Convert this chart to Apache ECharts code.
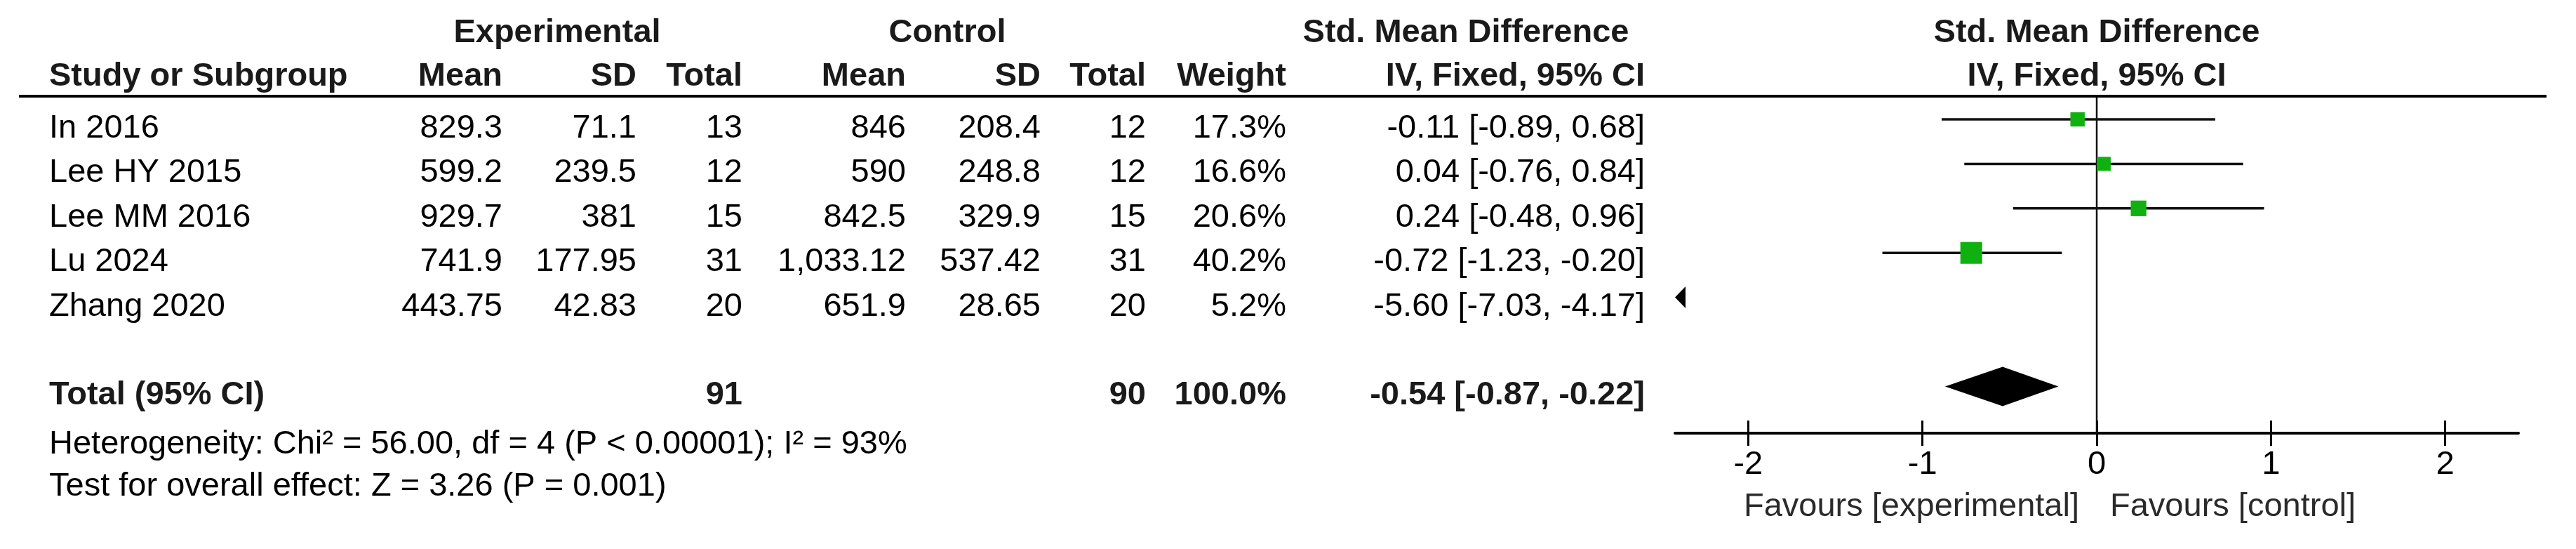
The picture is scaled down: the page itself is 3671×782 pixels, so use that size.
<!DOCTYPE html>
<html><head><meta charset="utf-8">
<script src="https://cdn.jsdelivr.net/npm/echarts@6/dist/echarts.min.js"></script>
<style>html,body{margin:0;padding:0;background:#fff}#c{width:3671px;height:782px}</style>
</head><body><div id="c"></div>
<script>
// ---------- data ----------
const studies = ['In 2016', 'Lee HY 2015', 'Lee MM 2016', 'Lu 2024', 'Zhang 2020'];
const expMean = [829.3, 599.2, 929.7, 741.9, 443.75];
const expSD = [71.1, 239.5, 381, 177.95, 42.83];
const expN = [13, 12, 15, 31, 20];
const ctlMean = [846, 590, 842.5, 1033.12, 651.9];
const ctlSD = [208.4, 248.8, 329.9, 537.42, 28.65];
const ctlN = [12, 12, 15, 31, 20];
const weight = [17.3, 16.6, 20.6, 40.2, 5.2];
const smd = [-0.11, 0.04, 0.24, -0.72, -5.60];
const ciLow = [-0.89, -0.76, -0.48, -1.23, -7.03];
const ciHigh = [0.68, 0.84, 0.96, -0.20, -4.17];
const totalLabel = 'Total (95% CI)';
const totalExpN = 91;
const totalCtlN = 90;
const totalWeight = 100.0;
const pooled = [-0.54, -0.87, -0.22]; // estimate, low, high
const xTicks = [-2, -1, 0, 1, 2];
const heterogeneityText = 'Heterogeneity: Chi² = 56.00, df = 4 (P < 0.00001); I² = 93%';
const overallText = 'Test for overall effect: Z = 3.26 (P = 0.001)';
const favoursLeft = 'Favours [experimental]';
const favoursRight = 'Favours [control]';

// ---------- layout ----------
const FONT = '"Liberation Sans", Arial, sans-serif';
const FS = 47;
const PLOT_LEFT = 2387, PLOT_RIGHT = 3589;
const HEADER_Y = 137, AXIS_Y = 617;
const X_MIN = -2.42, X_MAX = 2.42;
const ROW0 = 170, ROW_H = 63.4;
const Y_MIN = (HEADER_Y - ROW0) / ROW_H, Y_MAX = (AXIS_Y - ROW0) / ROW_H;
const TOTAL_ROW = 6;
const TEXT_DY = 13;
const unit = (PLOT_RIGHT - PLOT_LEFT) / (X_MAX - X_MIN);
const tickLeft = PLOT_LEFT + (xTicks[0] - X_MIN) * unit;
const tickWidth = (xTicks[xTicks.length - 1] - xTicks[0]) * unit;

const chart = echarts.init(document.getElementById('c'), null, {renderer: 'canvas'});

const rows = studies.map((s, i) => i);
const ciData = studies.map((s, i) => [ciLow[i], ciHigh[i], rows[i]]);
const sqData = studies.map((s, i) => [smd[i], rows[i], weight[i]]).filter(d => d[0] >= X_MIN && d[0] <= X_MAX);

const option = {
  backgroundColor: '#ffffff',
  animation: false,
  grid: [
    {left: PLOT_LEFT, width: PLOT_RIGHT - PLOT_LEFT, top: HEADER_Y, height: AXIS_Y - HEADER_Y, containLabel: false},
    {left: tickLeft, width: tickWidth, top: HEADER_Y, height: AXIS_Y - HEADER_Y, containLabel: false}
  ],
  xAxis: [
    {gridIndex: 0, type: 'value', position: 'bottom', min: X_MIN, max: X_MAX,
     axisLine: {show: true, onZero: false, lineStyle: {color: '#000', width: 4}},
     axisTick: {show: false}, axisLabel: {show: false}, splitLine: {show: false}},
    {gridIndex: 1, type: 'value', position: 'bottom', min: xTicks[0], max: xTicks[xTicks.length - 1], interval: 1,
     axisLine: {show: false, onZero: false}, axisTick: {show: true, length: 18, lineStyle: {color: '#000', width: 3}},
     axisLabel: {show: true, margin: 22, fontSize: FS, fontFamily: FONT, color: '#000'}, splitLine: {show: false}},
    {gridIndex: 1, type: 'value', position: 'bottom', offset: 0, min: xTicks[0], max: xTicks[xTicks.length - 1], interval: 1,
     axisLine: {show: false, onZero: false}, axisTick: {show: true, inside: true, length: 18, lineStyle: {color: '#000', width: 3}},
     axisLabel: {show: false}, splitLine: {show: false}}
  ],
  yAxis: [
    {gridIndex: 0, type: 'value', min: Y_MIN, max: Y_MAX, inverse: true, show: false},
    {gridIndex: 1, type: 'value', min: Y_MIN, max: Y_MAX, inverse: true, show: false}
  ],
  series: [
    {
      type: 'line', xAxisIndex: 0, yAxisIndex: 0, symbol: 'none', z: 1,
      data: [[0, Y_MIN], [0, Y_MAX]],
      lineStyle: {color: '#111', width: 2.5}
    },
    {
      type: 'custom', xAxisIndex: 0, yAxisIndex: 0, z: 2, clip: false,
      data: ciData,
      renderItem: function (params, api) {
        const lo = api.value(0), hi = api.value(1), row = api.value(2);
        if (hi < X_MIN) {
          const p = api.coord([X_MIN, row]);
          return {type: 'polygon', shape: {points: [[p[0], p[1]], [p[0] + 15, p[1] - 15.5], [p[0] + 15, p[1] + 15.5]]},
                  style: {fill: '#000'}};
        }
        const a = api.coord([Math.max(lo, X_MIN), row]);
        const b = api.coord([Math.min(hi, X_MAX), row]);
        return {type: 'line', shape: {x1: a[0], y1: a[1], x2: b[0], y2: b[1]},
                style: {stroke: '#111', lineWidth: 3.5}};
      }
    },
    {
      type: 'scatter', xAxisIndex: 0, yAxisIndex: 0, z: 3,
      symbol: 'rect',
      symbolSize: function (v) { return 4.9 * Math.sqrt(v[2]); },
      itemStyle: {color: '#11b011', opacity: 1},
      data: sqData
    },
    {
      type: 'custom', xAxisIndex: 0, yAxisIndex: 0, z: 3, clip: false,
      data: [[pooled[1], pooled[0], pooled[2], TOTAL_ROW]],
      renderItem: function (params, api) {
        const l = api.coord([api.value(0), api.value(3)]);
        const m = api.coord([api.value(1), api.value(3)]);
        const r = api.coord([api.value(2), api.value(3)]);
        const h = 28;
        return {type: 'polygon', shape: {points: [[l[0], l[1]], [m[0], m[1] - h], [r[0], r[1]], [m[0], m[1] + h]]},
                style: {fill: '#000'}};
      }
    }
  ]
};
chart.setOption(option);

// ---------- table text ----------
function txt(x, y, text, align, bold, color, size) {
  return {type: 'text', x: x, y: y, silent: true, z: 10,
    style: {text: text, font: (bold ? 'bold ' : '') + (size || FS) + 'px ' + FONT,
      textAlign: align, align: align, textVerticalAlign: 'middle', verticalAlign: 'middle', fill: color || '#000'}};
}
const fmtNum = v => v.toLocaleString('en-US', {maximumFractionDigits: 2});
const fmt2 = v => v.toFixed(2);
const ciText = (e, l, h) => fmt2(e) + ' [' + fmt2(l) + ', ' + fmt2(h) + ']';

const COL = {study: 70, expMean: 716, expSD: 907, expN: 1058, ctlMean: 1291, ctlSD: 1483, ctlN: 1633, weight: 1833, ci: 2344};
const H1 = 47, H2 = 109;
const zeroPx = chart.convertToPixel({xAxisIndex: 0, yAxisIndex: 0}, [0, 0])[0];
const plotCenter = (PLOT_LEFT + PLOT_RIGHT) / 2;
const HDR = '#1a1a1a';

const els = [];
els.push(txt(794, H1, 'Experimental', 'center', true, HDR));
els.push(txt(1350, H1, 'Control', 'center', true, HDR));
els.push(txt(2089, H1, 'Std. Mean Difference', 'center', true, HDR));
els.push(txt(plotCenter, H1, 'Std. Mean Difference', 'center', true, HDR));
els.push(txt(COL.study, H2, 'Study or Subgroup', 'left', true, HDR));
els.push(txt(COL.expMean, H2, 'Mean', 'right', true, HDR));
els.push(txt(COL.expSD, H2, 'SD', 'right', true, HDR));
els.push(txt(COL.expN, H2, 'Total', 'right', true, HDR));
els.push(txt(COL.ctlMean, H2, 'Mean', 'right', true, HDR));
els.push(txt(COL.ctlSD, H2, 'SD', 'right', true, HDR));
els.push(txt(COL.ctlN, H2, 'Total', 'right', true, HDR));
els.push(txt(COL.weight, H2, 'Weight', 'right', true, HDR));
els.push(txt(COL.ci, H2, 'IV, Fixed, 95% CI', 'right', true, HDR));
els.push(txt(plotCenter, H2, 'IV, Fixed, 95% CI', 'center', true, HDR));

studies.forEach((s, i) => {
  const y = chart.convertToPixel({xAxisIndex: 0, yAxisIndex: 0}, [0, rows[i]])[1] + TEXT_DY;
  els.push(txt(COL.study, y, s, 'left'));
  els.push(txt(COL.expMean, y, fmtNum(expMean[i]), 'right'));
  els.push(txt(COL.expSD, y, fmtNum(expSD[i]), 'right'));
  els.push(txt(COL.expN, y, String(expN[i]), 'right'));
  els.push(txt(COL.ctlMean, y, fmtNum(ctlMean[i]), 'right'));
  els.push(txt(COL.ctlSD, y, fmtNum(ctlSD[i]), 'right'));
  els.push(txt(COL.ctlN, y, String(ctlN[i]), 'right'));
  els.push(txt(COL.weight, y, weight[i].toFixed(1) + '%', 'right'));
  els.push(txt(COL.ci, y, ciText(smd[i], ciLow[i], ciHigh[i]), 'right'));
});
const ty = chart.convertToPixel({xAxisIndex: 0, yAxisIndex: 0}, [0, TOTAL_ROW])[1] + TEXT_DY;
els.push(txt(COL.study, ty, totalLabel, 'left', true, HDR));
els.push(txt(COL.expN, ty, String(totalExpN), 'right', true, HDR));
els.push(txt(COL.ctlN, ty, String(totalCtlN), 'right', true, HDR));
els.push(txt(COL.weight, ty, totalWeight.toFixed(1) + '%', 'right', true, HDR));
els.push(txt(COL.ci, ty, ciText(pooled[0], pooled[1], pooled[2]), 'right', true, HDR));
els.push(txt(COL.study, 633, heterogeneityText, 'left'));
els.push(txt(COL.study, 693, overallText, 'left'));
els.push(txt(zeroPx - 25, 722, favoursLeft, 'right', false, '#2a2a2a'));
els.push(txt(zeroPx + 19, 722, favoursRight, 'left', false, '#2a2a2a'));
// header rule
els.push({type: 'line', silent: true, z: 5, shape: {x1: 27, y1: HEADER_Y, x2: 3629, y2: HEADER_Y}, style: {stroke: '#000', lineWidth: 4}});

chart.setOption({graphic: {elements: els}});
</script></body></html>
